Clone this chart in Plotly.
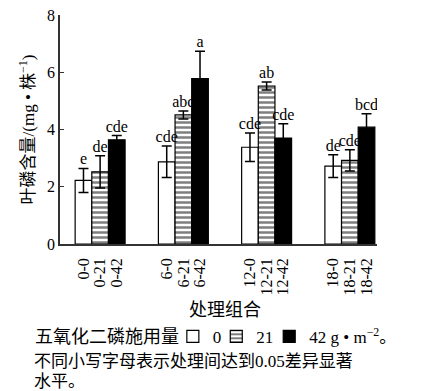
import plotly.graph_objects as go

groups = ["0", "6", "12", "18"]
rates = ["0", "21", "42"]
legend_names = ["0", "21", "42 g • m<sup>−2</sup>。"]

values_0 = [2.22, 2.87, 3.38, 2.72]
err_0 = [0.42, 0.55, 0.50, 0.40]
values_21 = [2.52, 4.51, 5.52, 2.92]
err_21 = [0.56, 0.14, 0.14, 0.37]
values_42 = [3.64, 5.78, 3.70, 4.08]
err_42 = [0.15, 0.95, 0.50, 0.47]

letters_0 = ["e", "cde", "cde", "de"]
letters_21 = ["de", "abc", "ab", "cde"]
letters_42 = ["cde", "a", "cde", "bcd"]

values = [values_0, values_21, values_42]
errors = [err_0, err_21, err_42]
letters = [letters_0, letters_21, letters_42]

SERIF = "Liberation Serif, Noto Sans CJK SC, serif"
STEP = 5  # bar slots per group (3 bars + gap)

fig = go.Figure()
styles = [
    dict(color="white", pattern=None),
    dict(color="white", pattern=dict(shape="-", fgcolor="black", bgcolor="white", size=5, solidity=0.5)),
    dict(color="black", pattern=None),
]
legend_ids = ["legend", "legend2", "legend3"]

tickvals, ticktext = [], []
for s, rate in enumerate(rates):
    xs = [g * STEP + s for g in range(len(groups))]
    tickvals += xs
    ticktext += [f"{g}-{rate}" for g in groups]
    marker = dict(color=styles[s]["color"], line=dict(color="black", width=1.2))
    if styles[s]["pattern"]:
        marker["pattern"] = styles[s]["pattern"]
    fig.add_trace(go.Bar(
        x=xs, y=values[s], width=1, name=legend_names[s], marker=marker,
        legend=legend_ids[s],
        error_y=dict(type="data", array=errors[s], color="black", thickness=1.5, width=5),
    ))
    fig.add_trace(go.Scatter(
        x=xs, y=[v + e for v, e in zip(values[s], errors[s])],
        mode="text", text=letters[s], textposition="top center",
        textfont=dict(family=SERIF, size=16, color="black"),
        showlegend=False, hoverinfo="skip",
    ))

LEG_Y = -0.405
leg_common = dict(orientation="h", yanchor="middle", y=LEG_Y, xanchor="left",
                  font=dict(size=17, family=SERIF), itemwidth=30,
                  bgcolor="rgba(0,0,0,0)")
fig.update_layout(
    width=445, height=391,
    margin=dict(l=60, r=68, t=15, b=147, autoexpand=False),
    plot_bgcolor="white", paper_bgcolor="white",
    font=dict(family=SERIF, color="black"),
    barmode="overlay",
    showlegend=True,
    legend=dict(x=0.356, **leg_common),
    legend2=dict(x=0.493, **leg_common),
    legend3=dict(x=0.66, **leg_common),
)
fig.update_xaxes(
    range=[-1.41, 17.63], tickvals=tickvals, ticktext=ticktext, tickangle=-90,
    showline=True, linecolor="#333", linewidth=1.5, ticks="", showgrid=False,
    zeroline=False, tickfont=dict(size=16, family=SERIF), automargin=False,
    ticklabelstandoff=6,
)
fig.update_yaxes(
    range=[0, 8], tickvals=[0, 2, 4, 6, 8], ticks="inside", ticklen=4,
    tickcolor="#333", showline=True, linecolor="#333", linewidth=1.5,
    showgrid=False, zeroline=False, tickfont=dict(size=16, family=SERIF),
    automargin=False,
    title=dict(text="叶磷含量/(mg • 株<sup>−1</sup>)",
               font=dict(size=17, family=SERIF, color="#000000"), standoff=8),
)
fig.add_annotation(
    text="处理组合", xref="paper", yref="paper", x=0.52, y=-0.29,
    xanchor="center", yanchor="middle", showarrow=False,
    font=dict(size=18, family=SERIF),
)
fig.add_annotation(
    text="五氧化二磷施用量", xref="paper", yref="paper", x=-0.085, y=LEG_Y,
    xanchor="left", yanchor="middle", showarrow=False,
    font=dict(size=18, family=SERIF),
)
fig.add_annotation(
    text="不同小写字母表示处理间达到0.05差异显著", xref="paper", yref="paper",
    x=-0.088, y=-0.515, xanchor="left", yanchor="middle", align="left",
    showarrow=False, font=dict(size=17, family=SERIF),
)
fig.add_annotation(
    text="水平。", xref="paper", yref="paper",
    x=-0.088, y=-0.6, xanchor="left", yanchor="middle", align="left",
    showarrow=False, font=dict(size=17, family=SERIF),
)
fig.write_html("out.html", config={"displayModeBar": False},
               post_script="document.body.style.margin='0';")
